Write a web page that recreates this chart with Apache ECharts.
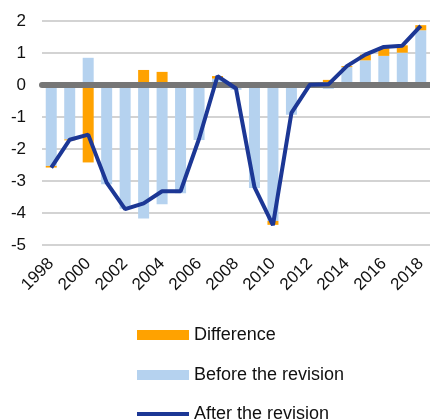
<!DOCTYPE html>
<html>
<head>
<meta charset="utf-8">
<script src="https://cdn.jsdelivr.net/npm/echarts@6/dist/echarts.min.js"></script>
<style>
  html, body { margin: 0; padding: 0; background: #fff; }
  #chart { width: 430px; height: 420px; }
</style>
</head>
<body>
<div id="chart"></div>
<script>
// years on the x axis
var years = ["1998", "1999", "2000", "2001", "2002", "2003", "2004", "2005", "2006", "2007",
    "2008", "2009", "2010", "2011", "2012", "2013", "2014", "2015", "2016", "2017", "2018"];
// light blue bars
var beforeRevision = [-2.53, -1.70, 0.85, -3.10, -3.87, -4.17, -3.73, -3.38, -1.72, 0.20,
    -0.15, -3.22, -4.25, -0.93, -0.03, -0.12, 0.56, 0.77, 0.91, 1.01, 1.71];
// orange bars, stacked on top of the blue ones
var difference = [-0.05, -0.03, -2.42, 0.05, 0, 0.47, 0.41, 0.05, 0.04, 0.08,
    0.05, 0.03, -0.12, 0.06, 0.03, 0.16, 0.03, 0.18, 0.24, 0.23, 0.16];
// navy line
var afterRevision = [-2.58, -1.71, -1.55, -3.05, -3.88, -3.70, -3.32, -3.32, -1.68, 0.28,
    -0.11, -3.19, -4.38, -0.87, 0.01, 0.02, 0.59, 0.95, 1.19, 1.23, 1.85];
var legendNames = ["Difference", "Before the revision", "After the revision"];

var chart = echarts.init(document.getElementById("chart"));
var font = "Liberation Sans, Arial, sans-serif";

// one legend block per row, so the list never wraps into columns
function legendRow(name, top, iconHeight) {
    return {
        orient: "vertical",
        left: 132,
        top: top,
        itemWidth: 52,
        itemHeight: iconHeight,
        itemGap: 0,
        textStyle: { color: "#111", fontSize: 18, fontFamily: font },
        data: [{ name: name, icon: "rect" }]
    };
}

chart.setOption({
    animation: false,
    backgroundColor: "#fff",
    textStyle: { fontFamily: font },
    legend: [
        legendRow(legendNames[0], 321, 10),
        legendRow(legendNames[1], 361, 10),
        legendRow(legendNames[2], 400, 4)
    ],
    grid: {
        left: 42,
        right: -2,
        top: 21,
        bottom: 175,
        containLabel: false
    },
    xAxis: [
        {
            type: "category",
            data: years,
            position: "bottom",
            axisLine: { show: false, onZero: false },
            axisTick: { show: false },
            axisLabel: {
                interval: 1,
                rotate: 45,
                margin: 16,
                color: "#111",
                fontSize: 17,
                fontFamily: font
            },
            splitLine: { show: false }
        },
        {
            // thick grey zero line
            type: "category",
            data: years,
            z: 3,
            axisLine: {
                show: true,
                onZero: true,
                lineStyle: { color: "#767676", width: 6 }
            },
            axisTick: { show: false },
            axisLabel: { show: false },
            splitLine: { show: false }
        }
    ],
    yAxis: {
        type: "value",
        min: -5,
        max: 2,
        interval: 1,
        axisLine: { show: false },
        axisTick: { show: false },
        axisLabel: {
            color: "#111",
            fontSize: 17,
            margin: 16,
            fontFamily: font
        },
        splitLine: {
            lineStyle: { color: "#c4c4c4", width: 1.5 }
        }
    },
    series: [
        {
            name: legendNames[1],
            type: "bar",
            stack: "rev",
            barWidth: 11,
            itemStyle: { color: "#b5d2ef" },
            data: beforeRevision
        },
        {
            name: legendNames[0],
            type: "bar",
            stack: "rev",
            barWidth: 11,
            itemStyle: { color: "#ffa200" },
            data: difference
        },
        {
            name: legendNames[2],
            type: "line",
            z: 5,
            symbol: "none",
            lineStyle: { color: "#1c3795", width: 4 },
            itemStyle: { color: "#1c3795" },
            data: afterRevision
        }
    ]
});
</script>
</body>
</html>
